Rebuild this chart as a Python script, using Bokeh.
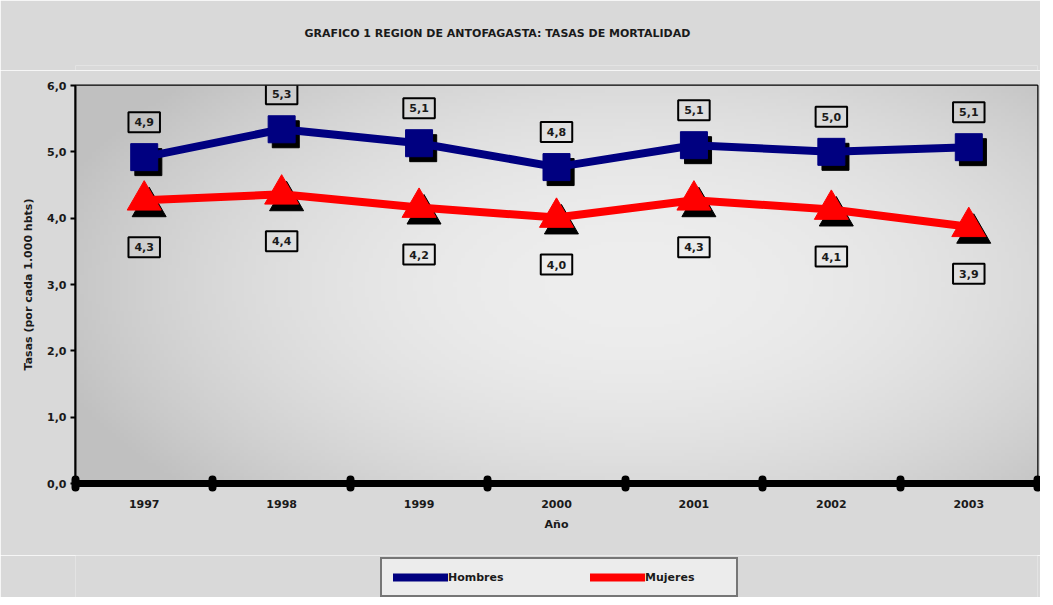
import numpy as np
from bokeh.plotting import figure
from bokeh.layouts import column
from bokeh.models import FixedTicker, Range1d, Legend, LegendItem, ColumnDataSource
from bokeh.transform import dodge
from bokeh.core.properties import value
from bokeh.embed import file_html
from bokeh.resources import INLINE

# ---- data ----
years = ["1997", "1998", "1999", "2000", "2001", "2002", "2003"]
hombres = [4.92, 5.34, 5.13, 4.77, 5.10, 5.00, 5.07]
mujeres = [4.27, 4.36, 4.16, 4.01, 4.27, 4.13, 3.87]
y_ticks = [0, 1, 2, 3, 4, 5, 6]
y_tick_labels = ["0,0", "1,0", "2,0", "3,0", "4,0", "5,0", "6,0"]
title_text = "GRAFICO 1 REGION DE ANTOFAGASTA: TASAS DE MORTALIDAD"
x_title = "Año"
y_title = "Tasas (por cada 1.000 hbts)"
series_names = ["Hombres", "Mujeres"]


def fmt(v):
    return f"{v:.1f}".replace(".", ",")


n = len(years)
xpos = [i + 0.5 for i in range(n)]
x_lo, x_hi = 0, n
y_lo, y_hi = y_ticks[0], y_ticks[-1]

src = ColumnDataSource(dict(
    x=xpos, h=hombres, m=mujeres,
    hl=[fmt(v) for v in hombres], ml=[fmt(v) for v in mujeres],
))

FONT = "DejaVu Sans"
TXT = "#1a1a1a"
BG = "#d9d9d9"
NAVY = "#000080"
RED = "#ff0000"


def strip(height):
    s = figure(width=1040, height=height, output_backend="svg", toolbar_location=None,
               x_range=Range1d(0, 1), y_range=Range1d(0, 1),
               x_axis_type=None, y_axis_type=None,
               min_border_left=0, min_border_right=0, min_border_top=0, min_border_bottom=0)
    s.border_fill_color = BG
    s.background_fill_color = BG
    s.outline_line_color = None
    s.grid.visible = False
    return s


# ---- title strip ----
p0 = strip(70)
p0.title.text = title_text
p0.title.align = "left"
p0.title.offset = 229
p0.title.vertical_align = "middle"
p0.title.text_font = FONT
p0.title.text_font_size = "11px"
p0.title.text_font_style = "bold"
p0.title.text_color = TXT
p0.title.standoff = 50

# ---- main chart ----
p = figure(width=1040, height=485,
           x_range=Range1d(x_lo, x_hi), y_range=Range1d(y_lo, y_hi),
           output_backend="svg", toolbar_location=None,
           min_border_left=75, min_border_right=3,
           min_border_top=15, min_border_bottom=72)

p.border_fill_color = BG
p.background_fill_color = "#e4e4e4"
p.outline_line_color = "black"
p.outline_line_width = 2

# plot-area gradient (decorative)
H, W = 120, 240
yy, xx = np.mgrid[0:H, 0:W]
u = xx / (W - 1)
v = yy / (H - 1)
r2 = ((u - 0.58) / 0.62) ** 2 + ((v - 0.5) / 0.75) ** 2
g = np.clip(238 - 44 * r2, 192, 238).astype(np.uint32)
img = (255 << 24) | (g << 16) | (g << 8) | g
p.image_rgba(image=[img.astype(np.uint32)], x=x_lo, y=y_lo, dw=x_hi - x_lo, dh=y_hi - y_lo)

# axes
p.xaxis.ticker = FixedTicker(ticks=xpos, minor_ticks=list(range(x_lo, x_hi + 1)))
p.xaxis.major_label_overrides = {xv: yr for xv, yr in zip(xpos, years)}
p.xaxis.axis_line_width = 7
p.xaxis.axis_line_color = "black"
p.xaxis.major_tick_line_color = None
p.xaxis.major_tick_out = 0
p.xaxis.major_tick_in = 0
p.xaxis.minor_tick_line_color = "black"
p.xaxis.minor_tick_line_width = 8
p.xaxis.minor_tick_line_cap = "round"
p.xaxis.minor_tick_in = 4
p.xaxis.minor_tick_out = 4
p.xaxis.major_label_standoff = 12
p.xaxis.axis_label = x_title
p.xaxis.axis_label_standoff = 7

p.yaxis.ticker = FixedTicker(ticks=y_ticks, minor_ticks=[])
p.yaxis.major_label_overrides = {t: l for t, l in zip(y_ticks, y_tick_labels)}
p.yaxis.axis_line_width = 2
p.yaxis.axis_line_color = "black"
p.yaxis.major_tick_line_width = 2
p.yaxis.major_tick_line_color = "black"
p.yaxis.major_tick_out = 5
p.yaxis.major_tick_in = 0
p.yaxis.major_label_standoff = 4
p.yaxis.axis_label = y_title
p.yaxis.axis_label_standoff = 9

for ax in (p.xaxis, p.yaxis):
    ax.major_label_text_font = FONT
    ax.major_label_text_font_size = "11px"
    ax.major_label_text_font_style = "bold"
    ax.major_label_text_color = TXT
    ax.axis_label_text_font = FONT
    ax.axis_label_text_font_size = "11px"
    ax.axis_label_text_font_style = "bold"
    ax.axis_label_text_color = TXT

p.xgrid.grid_line_color = None
p.ygrid.grid_line_color = "black"
p.ygrid.grid_line_width = 1.5

# shadows
p.scatter(x=dodge("x", 0.03, range=p.x_range), y=dodge("h", -0.075, range=p.y_range),
          source=src, marker="square", size=27, fill_color="black", line_color="black")
p.scatter(x=dodge("x", 0.036, range=p.x_range), y=dodge("m", -0.1, range=p.y_range),
          source=src, marker="triangle", size=34, fill_color="black", line_color="black")

# lines + markers
p.line("x", "h", source=src, line_color=NAVY, line_width=8, line_cap="round")
p.scatter("x", "h", source=src, marker="square", size=27, fill_color=NAVY, line_color=NAVY)
p.line("x", "m", source=src, line_color=RED, line_width=8, line_cap="round")
p.scatter("x", "m", source=src, marker="triangle", size=34, fill_color=RED, line_color=RED)

# data labels
common = dict(text_align="center", text_baseline="middle", text_font=value(FONT),
              text_font_size="11px", text_font_style="bold", text_color=TXT,
              border_line_color="black", border_line_width=2, padding=(6, 6),
              background_fill_color=None)
p.text(x="x", y="h", text="hl", source=src, y_offset=-35, **common)
p.text(x="x", y="m", text="ml", source=src, y_offset=47, **common)

# ---- legend strip ----
p2 = strip(42)
nan = float("nan")
lh = p2.line(x=[nan], y=[nan], line_color=NAVY, line_width=8, line_cap="round")
sh = p2.scatter(x=[nan], y=[nan], marker="square", size=10, fill_color=NAVY, line_color=NAVY)
lm = p2.line(x=[nan], y=[nan], line_color=RED, line_width=8, line_cap="round")
sm = p2.scatter(x=[nan], y=[nan], marker="triangle", size=10, fill_color=RED, line_color=RED)

legend = Legend(items=[LegendItem(label=series_names[0], renderers=[lh, sh]),
                       LegendItem(label=series_names[1], renderers=[lm, sm])],
                orientation="horizontal", location=(305, 0))
legend.margin = 0
legend.padding = 11
legend.spacing = 62
legend.glyph_width = 55
legend.glyph_height = 14
legend.label_width = 80
legend.label_height = 14
legend.label_standoff = 0
legend.label_text_font = FONT
legend.label_text_font_size = "11px"
legend.label_text_font_style = "bold"
legend.label_text_color = TXT
legend.border_line_color = "black"
legend.border_line_width = 2
legend.background_fill_color = "#ececec"
legend.background_fill_alpha = 1
p2.add_layout(legend)

layout = column(p0, p, p2, spacing=0)
open("out.html", "w").write(file_html(layout, INLINE))
